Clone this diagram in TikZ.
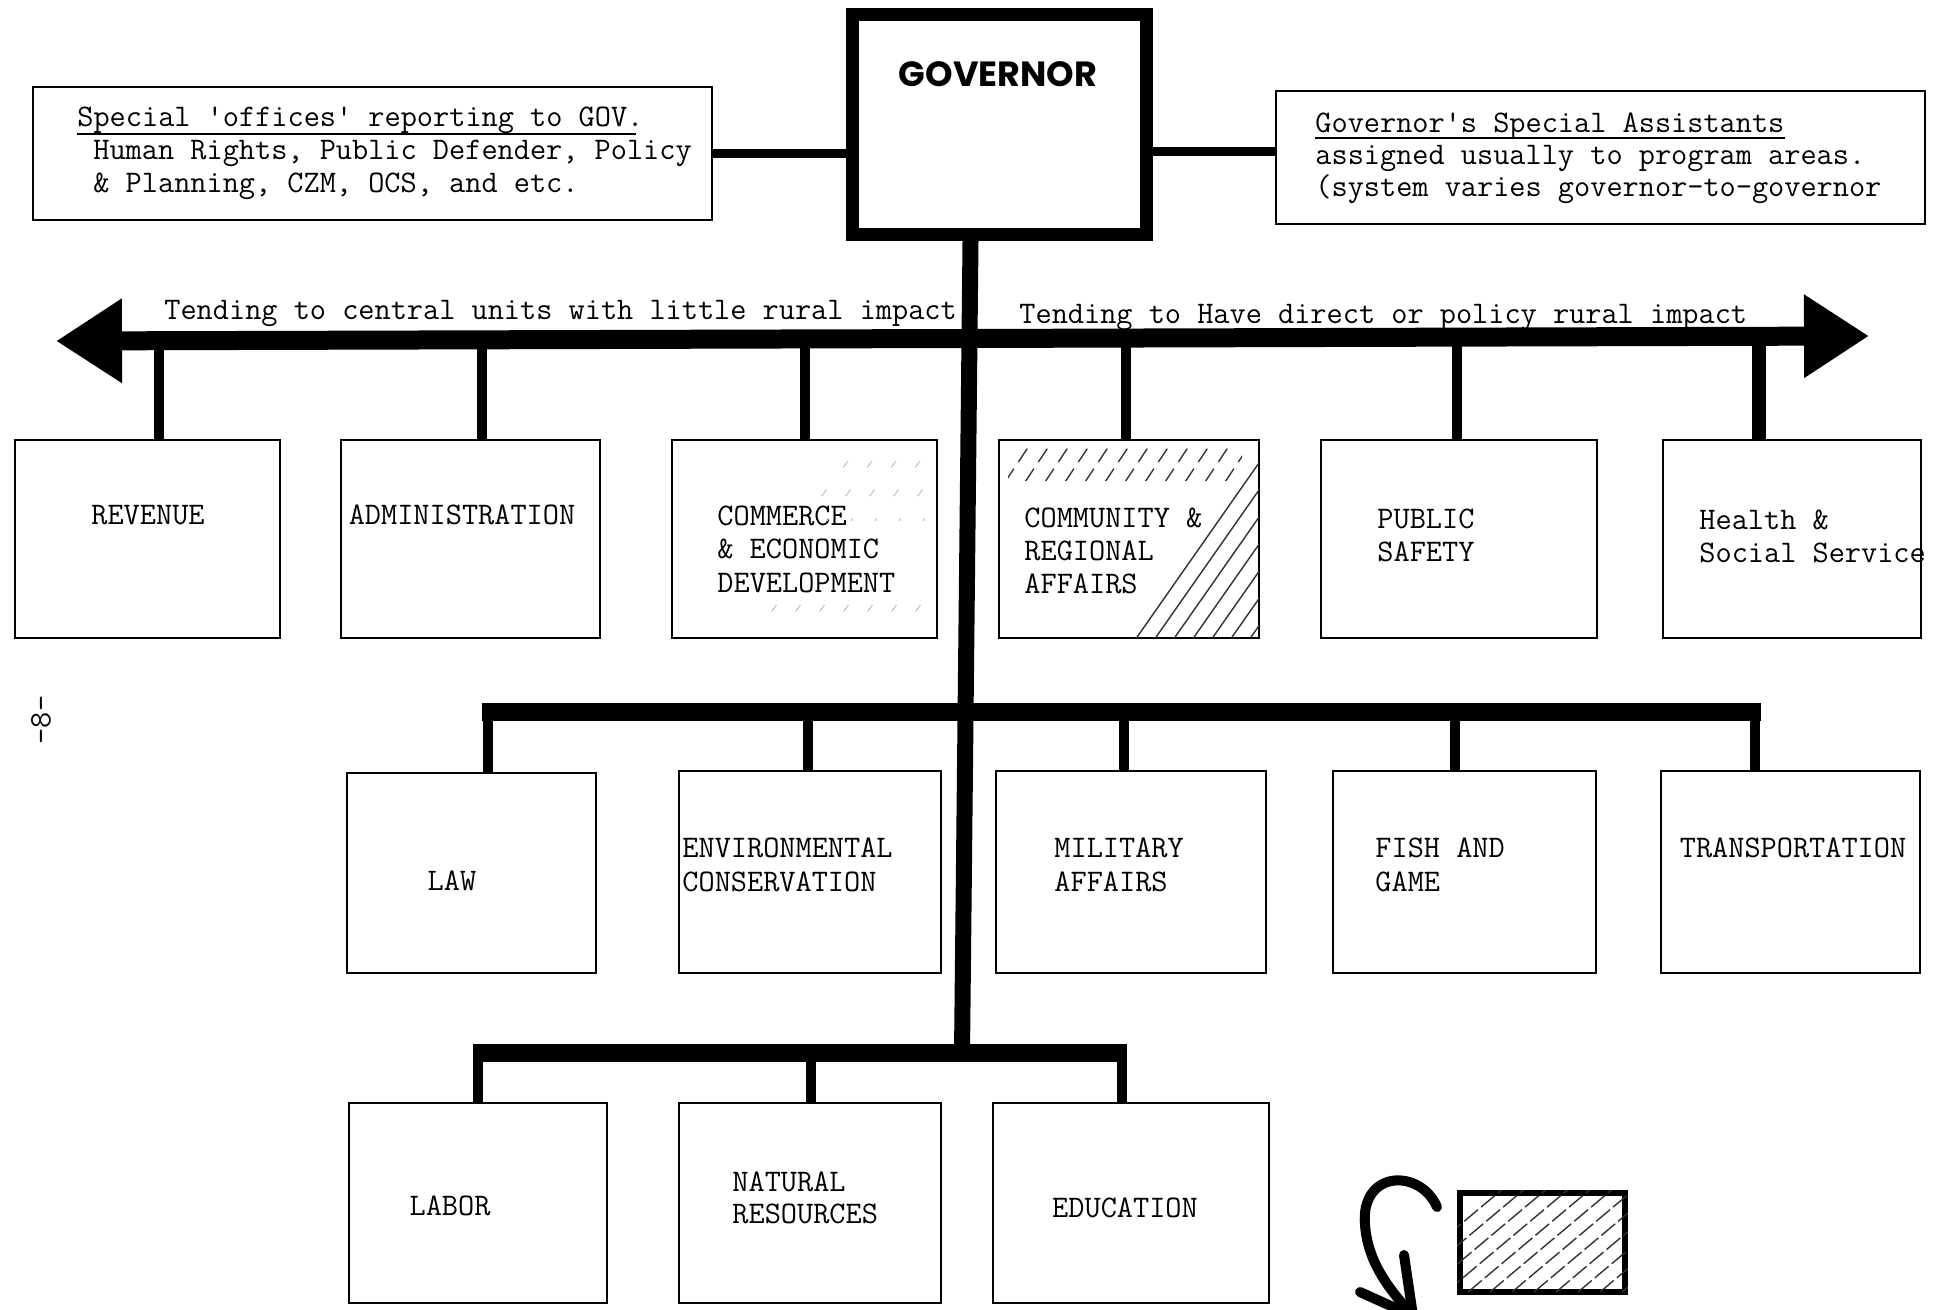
\documentclass[tikz,border=0pt]{standalone}
\usepackage{fontspec}
\newfontfamily\govfont{Poppins}
\usetikzlibrary{calc,fit,arrows.meta}
\begin{document}
\begin{tikzpicture}[x=0.5pt,y=-0.5pt,
  box/.style={draw=black, line width=1.1pt, inner sep=0pt},
  govbox/.style={draw=black, line width=6.5pt, inner sep=0pt},
  tw/.style={font=\ttfamily\fontsize{15.7}{16.75}\selectfont, inner sep=0pt, text=black},
  twl/.style={tw, anchor=base west},
  twc/.style={tw, anchor=base},
  drop/.style={line width=5pt},
  bar/.style={line width=9pt},
  trunk/.style={line width=8pt},
  link/.style={line width=4.5pt},
  hatch/.style={line width=0.7pt, black!80},
  faint/.style={line width=0.5pt, black!25, dash pattern=on 4pt off 14pt},
  curl/.style={line width=5pt, line cap=round, line join=round}
]
\fill[white] (0,0) rectangle (1941,1310);
\useasboundingbox (0,0) rectangle (1941,1310);

% ---- governor and staff offices ----
\node[govbox, fit={(852.5,14.5)(1146.5,234.5)}] (gov) {};
\node[font=\govfont\bfseries\fontsize{17.5}{20}\selectfont, anchor=base, inner sep=0pt] (govname) at (998,87) {GOVERNOR};

\node[box, fit={(33,87)(712,220)}] (spo) {};
\node[twl] (sp1) at (77,127) {Special \textquotesingle offices\textquotesingle{} reporting to GOV.};
\node[twl] (sp2) at (93,160) {Human Rights, Public Defender, Policy};
\node[twl] (sp3) at (93,193) {\& Planning, CZM, OCS, and etc.};
\draw[line width=1pt] ($(sp1.base west)+(0,7)$) -- ($(sp1.base east)+(-8,7)$);

\node[box, fit={(1276,91)(1925,224)}] (gsa) {};
\node[twl] (ga1) at (1315,133) {Governor\textquotesingle s Special Assistants};
\node[twl] (ga2) at (1315,165) {assigned usually to program areas.};
\node[twl] (ga3) at (1315,197) {(system varies governor-to-governor};
\draw[line width=1pt] ($(ga1.base west)+(0,5)$) -- ($(ga1.base east)+(0,5)$);

\draw[link] (spo.east) -- (gov.west |- spo.east);
\draw[link] (gov.east |- 0,152) -- (gsa.west |- 0,152);

% ---- rural-impact axis ----
\coordinate (tipL) at (56,341);
\coordinate (tipR) at (1869,336);
\coordinate (spine) at (960,338);
\draw[line width=9.5pt, {Triangle[length=33pt,width=40pt]}-{Triangle[length=32.5pt,width=39.5pt]}] (tipL) -- (tipR);
\node[twl] (lblL) at (164,320) {Tending to central units with little rural impact};
\node[twl] (lblR) at (1019,323) {Tending to Have direct or policy rural impact};

% ---- first row of departments ----
\node[box, fit={(15,440)(280,638)}] (rev) {};
\node[box, fit={(341,440)(600,638)}] (adm) {};
\node[box, fit={(672,440)(937,638)}] (com) {};
\node[box, fit={(999,440)(1259,638)}] (cra) {};
\node[box, fit={(1321,440)(1597,638)}] (pub) {};
\node[box, fit={(1663,440)(1921,638)}] (hss) {};

\foreach \n/\dx in {rev/11, adm/11, com/0.5, cra/-3, pub/-2}{
  \path (\n.north) ++(\dx,0) coordinate (\n-top);
  \draw[drop] (\n-top) -- (\n-top |- spine);
}
\path (hss.north) ++(-33,0) coordinate (hss-top);
\draw[drop, line width=7pt] (hss-top) -- (hss-top |- spine);

\node[twc] (rev1) at (148,524) {REVENUE};
\node[twc] (adm1) at (462,524) {ADMINISTRATION};
\node[twl] (com1) at (717,525) {COMMERCE};
\node[twl] (com2) at (717,558.5) {\& ECONOMIC};
\node[twl] (com3) at (717,592) {DEVELOPMENT};
\node[twl] (cra1) at (1024,527) {COMMUNITY \&};
\node[twl] (cra2) at (1024,560) {REGIONAL};
\node[twl] (cra3) at (1024,593) {AFFAIRS};
\node[twl] (pub1) at (1377,528) {PUBLIC};
\node[twl] (pub2) at (1377,561) {SAFETY};
\node[twl] (hss1) at (1699,529) {Health \&};
\node[twl] (hss2) at (1699,562) {Social Service};

% hatching of the community box
\begin{scope}
  \clip (1259,452) -- (1259,638) -- (1120,638) -- (1195,548) -- (1232,490) -- cycle;
  \foreach \i in {0,...,16} \draw[hatch] (1090+\i*19,650) -- ++(140,-200);
\end{scope}
\begin{scope}
  \clip (1008,447) rectangle (1242,480);
  \foreach \i in {0,...,12} \draw[hatch, dash pattern=on 8pt off 4pt] (1005+\i*20,482) -- ++(24,-36);
\end{scope}
% faint marks in the commerce box
\begin{scope}
  \clip (815,448) rectangle (932,520);
  \foreach \i in {0,...,5} \draw[faint] (800+\i*24,525) -- ++(60,-80);
\end{scope}
\begin{scope}
  \clip (760,595) rectangle (932,632);
  \foreach \i in {0,...,7} \draw[faint] (750+\i*24,640) -- ++(40,-53);
\end{scope}

% ---- second row of departments ----
\coordinate (mid) at (960,712);
\node[box, fit={(347,773)(596,973)}] (law) {};
\node[box, fit={(679,771)(941,973)}] (env) {};
\node[box, fit={(996,771)(1266,973)}] (mil) {};
\node[box, fit={(1333,771)(1596,973)}] (fsh) {};
\node[box, fit={(1661,771)(1920,973)}] (trn) {};
\foreach \n/\dx in {law/16.5, env/-2, mil/-7, fsh/-9.5, trn/-35.5}{
  \path (\n.north) ++(\dx,0) coordinate (\n-top);
  \draw[drop] (\n-top) -- (\n-top |- mid);
}
\draw[bar] ($(law-top |- mid)+(-6,0)$) -- ($(trn-top |- mid)+(6,0)$);

\node[twc] (law1) at (452,890) {LAW};
\node[twl] (env1) at (682,857) {ENVIRONMENTAL};
\node[twl] (env2) at (682,891) {CONSERVATION};
\node[twl] (mil1) at (1054,857) {MILITARY};
\node[twl] (mil2) at (1054,891) {AFFAIRS};
\node[twl] (fsh1) at (1375,857) {FISH AND};
\node[twl] (fsh2) at (1375,891) {GAME};
\node[twc] (trn1) at (1793,857) {TRANSPORTATION};

% ---- third row of departments ----
\coordinate (low) at (962,1053);
\node[box, fit={(349,1103)(607,1303)}] (lab) {};
\node[box, fit={(679,1103)(941,1303)}] (nat) {};
\node[box, fit={(993,1103)(1269,1303)}] (edu) {};
\foreach \n/\dx in {lab/0, nat/1, edu/-9}{
  \path (\n.north) ++(\dx,0) coordinate (\n-top);
  \draw[drop] (\n-top) -- (\n-top |- low);
}
\draw[bar] ($(lab-top |- low)+(-5,0)$) -- ($(edu-top |- low)+(5,0)$);

\node[twc] (lab1) at (450,1215) {LABOR};
\node[twl] (nat1) at (732,1191) {NATURAL};
\node[twl] (nat2) at (732,1223) {RESOURCES};
\node[twc] (edu1) at (1125,1217) {EDUCATION};

% ---- main trunk ----
\draw[trunk] ($(gov.south)+(-29,0)$) -- (low);

% ---- key: hatched box and curled arrow ----
\node[draw=black, line width=3pt, inner sep=0pt, fit={(1460,1193)(1625,1292)}] (key) {};
\begin{scope}
  \clip (key.north west) rectangle (key.south east);
  \foreach \i in {0,...,13} \draw[hatch, dash pattern=on 9pt off 2pt] (1380+\i*22,1292) -- ++(200,-168);
\end{scope}
\coordinate (cs) at (1437,1207);
\coordinate (cm) at (1365,1225);
\coordinate (ct) at (1413,1316);
\draw[curl] (cs) .. controls (1420,1168) and (1360,1170) .. (cm) .. controls (1368,1265) and (1392,1292) .. (ct);
\draw[curl] (1360,1292) -- (ct) -- (1404,1255);

% page number
\node[tw, rotate=90] (pg) at (41,720) {-8-};
\end{tikzpicture}
\end{document}
